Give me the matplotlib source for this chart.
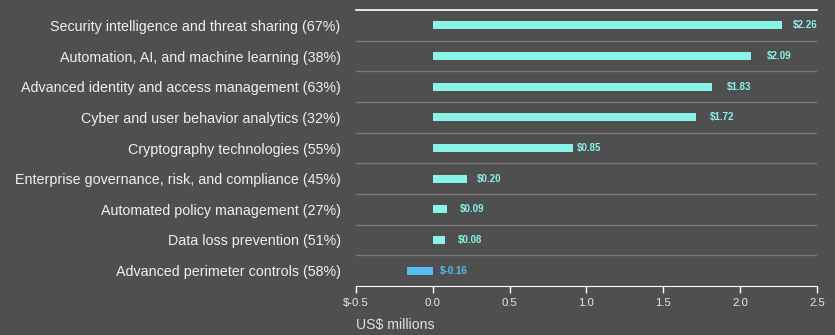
import matplotlib.pyplot as plt
from matplotlib.ticker import FuncFormatter

plt.rcParams["font.family"] = ["Liberation Sans", "DejaVu Sans"]

categories = [
    "Security intelligence and threat sharing (67%)",
    "Automation, AI, and machine learning (38%)",
    "Advanced identity and access management (63%)",
    "Cyber and user behavior analytics (32%)",
    "Cryptography technologies (55%)",
    "Enterprise governance, risk, and compliance (45%)",
    "Automated policy management (27%)",
    "Data loss prevention (51%)",
    "Advanced perimeter controls (58%)",
]
# bar lengths as drawn, and the printed labels (which differ slightly)
bar_values = [2.27, 2.07, 1.82, 1.71, 0.91, 0.22, 0.095, 0.08, -0.17]
label_values = [2.26, 2.09, 1.83, 1.72, 0.85, 0.20, 0.09, 0.08, -0.16]
xticks = [-0.5, 0.0, 0.5, 1.0, 1.5, 2.0, 2.5]

bg = "#4f4f4f"
pos_color = "#88f3e8"
neg_color = "#5bbcf5"

fig = plt.figure(figsize=(8.35, 3.35), dpi=100, facecolor=bg)
ax = fig.add_axes([0.4263, 0.1463, 0.5521, 0.8237], facecolor=bg)

n = len(categories)
ypos = list(range(n))
colors = [pos_color if v >= 0 else neg_color for v in bar_values]
ax.barh(ypos, bar_values, height=0.26, color=colors)

for y, v, c in zip(ypos, label_values, colors):
    x = v + 0.085 if v >= 0 else 0.045
    ax.text(x, y, f"${v:.2f}", color=c, fontsize=7,
            fontweight="bold", va="center", ha="left")

ax.set_ylim(n - 0.5, -0.5)
ax.set_xlim(-0.5, 2.5)
ax.set_yticks(ypos)
ax.set_yticklabels(categories, color="#f0f0f0", fontsize=10.25)
ax.tick_params(axis="y", length=0, pad=11)

# row separators
for b in range(1, n):
    ax.axhline(b - 0.5, color="#777777", lw=1)

ax.set_xticks(xticks)
ax.xaxis.set_major_formatter(FuncFormatter(
    lambda x, p: f"${x:.1f}" if x < 0 else f"{x:.1f}"))
ax.tick_params(axis="x", colors="white", labelcolor="#e8e8e8",
               labelsize=8.2, length=5, width=1, direction="out")

for s in ["left", "right"]:
    ax.spines[s].set_visible(False)
ax.spines["top"].set_color("white")
ax.spines["bottom"].set_color("white")
ax.spines["top"].set_linewidth(1.2)

ax.set_xlabel("US$ millions", color="#e0e0e0", fontsize=10.1, loc="left",
              labelpad=7)

fig.savefig("out.png", facecolor=bg)
